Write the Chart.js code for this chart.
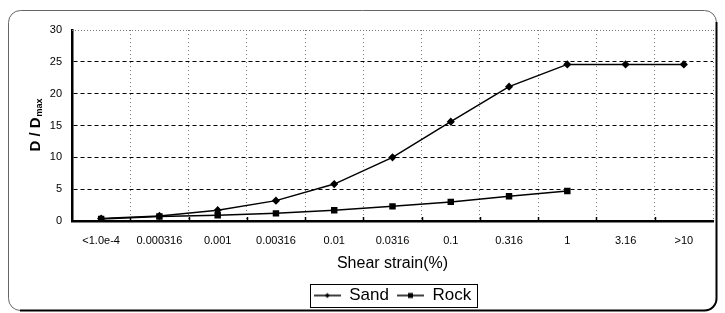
<!DOCTYPE html>
<html lang="en">
<head>
<meta charset="UTF-8">
<title>D/Dmax vs shear strain</title>
<script src="https://cdn.jsdelivr.net/npm/chart.js"></script>
<style>
  html, body { margin: 0; background: #fff; }
  #wrap { width: 725px; height: 313px; position: relative; }
</style>
</head>
<body>
<div id="wrap"><canvas id="chart"></canvas></div>
<script>
// data
const strainLabels = ['<1.0e-4', '0.000316', '0.001', '0.00316', '0.01', '0.0316', '0.1', '0.316', '1', '3.16', '>10'];
const sandValues = [0.4, 0.8, 1.7, 3.2, 5.8, 10.0, 15.6, 21.1, 24.6, 24.6, 24.6];
const rockValues = [0.3, 0.7, 0.9, 1.2, 1.7, 2.3, 3.0, 3.9, 4.7, null, null];
const yTicks = [0, 5, 10, 15, 20, 25, 30];

const FONT = '"Liberation Sans", Arial, sans-serif';

// legend symbol: line with marker in the middle
function legendSymbol(kind) {
  const c = document.createElement('canvas');
  c.width = 27; c.height = 10;
  const g = c.getContext('2d');
  g.strokeStyle = '#000';
  g.lineWidth = 1.5;
  g.beginPath(); g.moveTo(0, 5); g.lineTo(27, 5); g.stroke();
  g.fillStyle = '#000';
  if (kind === 'diamond') {
    g.beginPath(); g.moveTo(13.5, 2.5); g.lineTo(16, 5); g.lineTo(13.5, 7.5); g.lineTo(11, 5); g.closePath(); g.fill();
  } else {
    g.fillRect(11, 2.5, 5, 5);
  }
  return c;
}
const symbols = [legendSymbol('diamond'), legendSymbol('square')];

const decor = {
  id: 'decor',
  afterLayout(chart) {
    // center the legend under the plot area instead of the whole canvas
    chart.legend.left += 36;
    chart.legend.right += 36;
  },
  beforeDraw(chart) {
    const ctx = chart.ctx;
    ctx.save();
    // outer rounded frame
    ctx.strokeStyle = '#666';
    ctx.lineWidth = 1;
    ctx.beginPath();
    ctx.roundRect(8.5, 10.5, 708, 300, 12);
    ctx.stroke();
    ctx.strokeStyle = '#000';
    ctx.lineWidth = 2;
    ctx.beginPath();
    ctx.moveTo(716.5, 22);
    ctx.lineTo(716.5, 298.5);
    ctx.arcTo(716.5, 310.5, 704.5, 310.5, 12);
    ctx.lineTo(20, 310.5);
    ctx.stroke();
    ctx.restore();
  },
  afterDraw(chart) {
    const ctx = chart.ctx;
    const a = chart.chartArea;
    const x = chart.scales.x;
    ctx.save();
    // dotted top edge
    ctx.strokeStyle = '#777';
    ctx.lineWidth = 1;
    ctx.setLineDash([1, 2]);
    ctx.beginPath();
    ctx.moveTo(a.left, a.top + 0.5);
    ctx.lineTo(a.right, a.top + 0.5);
    ctx.stroke();
    ctx.setLineDash([]);
    // inward tick marks on the x axis at category boundaries
    ctx.strokeStyle = '#000';
    ctx.lineWidth = 1.5;
    const half = (x.getPixelForValue(1) - x.getPixelForValue(0)) / 2;
    for (let i = 1; i < strainLabels.length; i++) {
      const px = Math.round(x.getPixelForValue(i) - half) + 0.5;
      ctx.beginPath();
      ctx.moveTo(px, a.bottom);
      ctx.lineTo(px, a.bottom - 4);
      ctx.stroke();
    }
    // y axis title with subscript
    ctx.translate(36, (a.top + a.bottom) / 2);
    ctx.rotate(-Math.PI / 2);
    ctx.fillStyle = '#000';
    ctx.textBaseline = 'middle';
    ctx.font = 'bold 15px ' + FONT;
    const main = 'D / D';
    const wMain = ctx.measureText(main).width;
    ctx.font = 'bold 9px ' + FONT;
    const wSub = ctx.measureText('max').width;
    const start = -(wMain + wSub) / 2;
    ctx.font = 'bold 15px ' + FONT;
    ctx.fillText(main, start, 0);
    ctx.font = 'bold 9px ' + FONT;
    ctx.fillText('max', start + wMain + 1, 4);
    // legend frame
    const boxes = chart.legend.legendHitBoxes;
    if (boxes && boxes.length) {
      const l = Math.min(...boxes.map(b => b.left)) - 4;
      const r = Math.max(...boxes.map(b => b.left + b.width)) + 6;
      const t = Math.min(...boxes.map(b => b.top)) - 3;
      const btm = Math.max(...boxes.map(b => b.top + b.height)) + 3;
      ctx.setTransform(1, 0, 0, 1, 0, 0);
      ctx.strokeStyle = '#000';
      ctx.lineWidth = 1;
      ctx.strokeRect(Math.round(l) + 0.5, Math.round(t) + 0.5, Math.round(r - l), Math.round(btm - t));
    }
    ctx.restore();
  }
};

new Chart(document.getElementById('chart'), {
  type: 'line',
  data: {
    labels: strainLabels,
    datasets: [
      {
        label: 'Sand',
        data: sandValues,
        borderColor: '#000',
        backgroundColor: '#000',
        borderWidth: 1.5,
        pointStyle: 'rectRot',
        pointRadius: 3,
        tension: 0
      },
      {
        label: 'Rock',
        data: rockValues,
        borderColor: '#000',
        backgroundColor: '#000',
        borderWidth: 1.5,
        pointStyle: 'rect',
        pointRadius: 3.5,
        tension: 0
      }
    ]
  },
  options: {
    responsive: true,
    maintainAspectRatio: false,
    animation: false,
    layout: { padding: { top: 30, right: 12, bottom: -1, left: 0 } },
    scales: {
      x: {
        offset: true,
        grid: { offset: true, color: '#777', lineWidth: 1, drawTicks: false },
        border: { display: true, color: '#000', width: 2.5, dash: [1, 3] },
        ticks: { color: '#000', padding: 13, maxRotation: 0, autoSkip: false, font: { family: FONT, size: 11 } },
        title: {
          display: true,
          text: 'Shear strain(%)',
          color: '#000',
          padding: { top: 0, bottom: 6 },
          font: { family: FONT, size: 16 }
        },
        afterFit(scale) { scale.height = 58; }
      },
      y: {
        min: 0,
        max: 30,
        afterBuildTicks(scale) { scale.ticks = yTicks.map(v => ({ value: v })); },
        grid: {
          color: c => (c.tick && (c.tick.value === 0 || c.tick.value === 30)) ? 'rgba(0,0,0,0)' : '#000',
          lineWidth: 1,
          drawTicks: false
        },
        border: { display: true, color: '#000', width: 2.5, dash: [4, 3] },
        ticks: { color: '#000', padding: 10, font: { family: FONT, size: 11 } },
        afterFit(scale) { scale.width = 72; }
      }
    },
    plugins: {
      legend: {
        position: 'bottom',
        labels: {
          usePointStyle: true,
          pointStyleWidth: 27,
          padding: 8,
          color: '#000',
          font: { family: FONT, size: 17 },
          generateLabels(chart) {
            const items = Chart.defaults.plugins.legend.labels.generateLabels(chart);
            items.forEach((it, i) => { it.pointStyle = symbols[i]; });
            return items;
          }
        }
      },
      tooltip: { enabled: false }
    }
  },
  plugins: [decor]
});
</script>
</body>
</html>
